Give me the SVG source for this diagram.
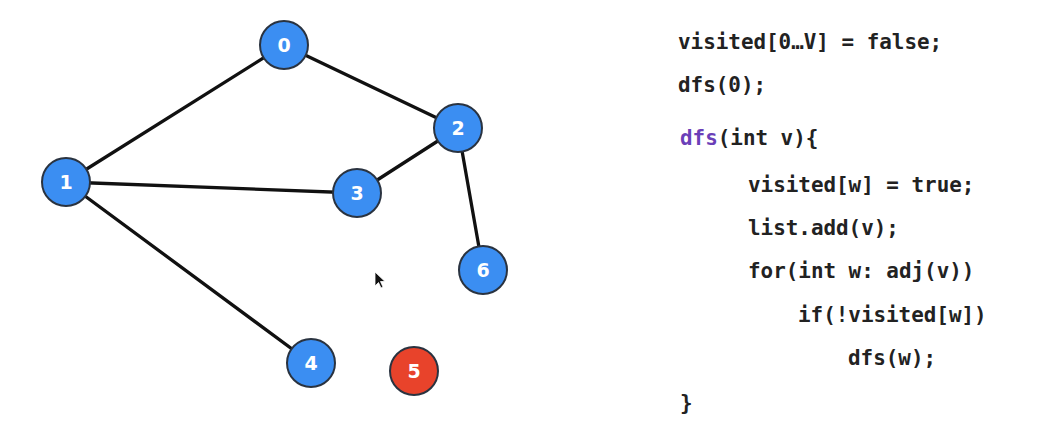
<svg xmlns="http://www.w3.org/2000/svg" width="1039" height="440" viewBox="0 0 1039 440">
<style>
.edge{stroke:#111;stroke-width:3.3;stroke-linecap:round}
.n circle{fill:#3b8ef2;stroke:#2a3340;stroke-width:2}
.n.red circle{fill:#e8432b}
.n text{font-family:"DejaVu Sans","Liberation Sans",sans-serif;font-weight:bold;font-size:19px;fill:#fff;text-anchor:middle}
.code{font-family:"DejaVu Sans Mono","Liberation Mono",monospace;font-weight:bold;font-size:20.9px;fill:#222}
.kw{fill:#6b3fb8}
</style>
<rect width="1039" height="440" fill="#fff"/>
<g id="edges">
<line class="edge" x1="284" y1="45" x2="66" y2="182"/>
<line class="edge" x1="284" y1="45" x2="458" y2="128"/>
<line class="edge" x1="458" y1="128" x2="357" y2="193"/>
<line class="edge" x1="458" y1="128" x2="483" y2="270"/>
<line class="edge" x1="66" y1="182" x2="357" y2="193"/>
<line class="edge" x1="66" y1="182" x2="311" y2="363"/>
</g>
<g id="node0" class="n"><circle cx="284" cy="45" r="24"/><text x="284" y="52">0</text></g>
<g id="node1" class="n"><circle cx="66" cy="182" r="24"/><text x="66" y="189">1</text></g>
<g id="node2" class="n"><circle cx="458" cy="128" r="24"/><text x="458" y="135">2</text></g>
<g id="node3" class="n"><circle cx="357" cy="193" r="24"/><text x="357" y="200">3</text></g>
<g id="node6" class="n"><circle cx="483" cy="270" r="24"/><text x="483" y="277">6</text></g>
<g id="node4" class="n"><circle cx="311" cy="363" r="24"/><text x="311" y="370">4</text></g>
<g id="node5" class="n red"><circle cx="414" cy="371" r="24"/><text x="414" y="378">5</text></g>
<path d="M375,272 L375,286 L378.5,282.5 L381,288 L383,287 L380.5,281.5 L385,281.5 Z" fill="#111" stroke="#fff" stroke-width="0.8"/>
<g id="code" class="code">
<text x="678" y="49">visited[0…V] = false;</text>
<text x="678" y="92">dfs(0);</text>
<text x="680" y="145"><tspan class="kw">dfs</tspan>(int v){</text>
<text x="748" y="192">visited[w] = true;</text>
<text x="748" y="235">list.add(v);</text>
<text x="748" y="278">for(int w: adj(v))</text>
<text x="798" y="322">if(!visited[w])</text>
<text x="848" y="365">dfs(w);</text>
<text x="680" y="410">}</text>
</g>
</svg>
